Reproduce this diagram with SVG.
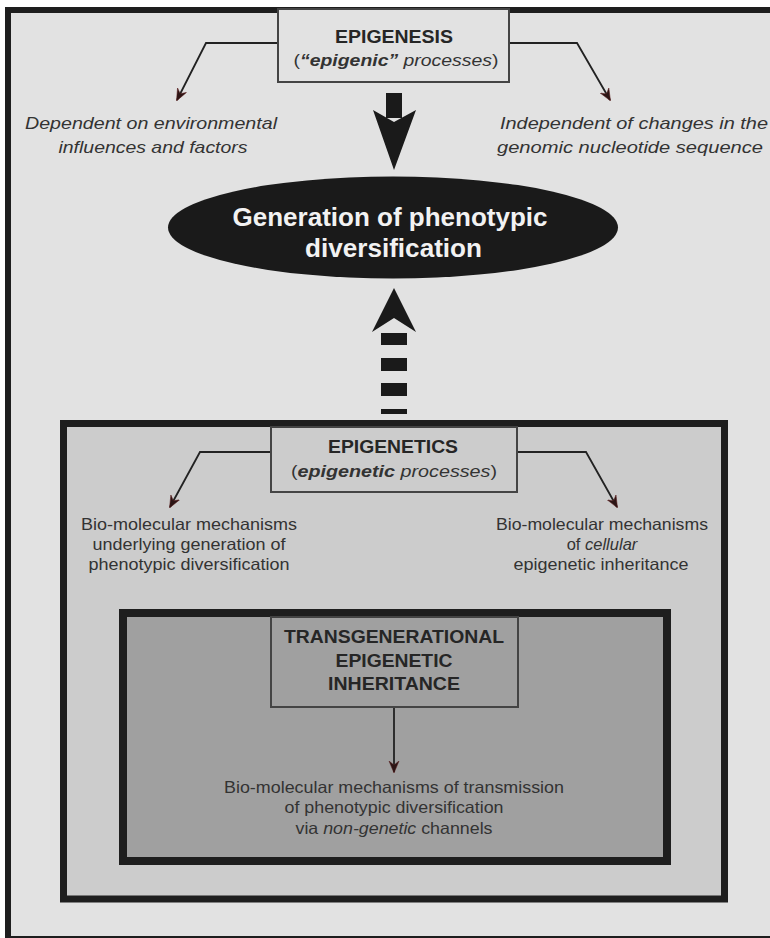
<svg xmlns="http://www.w3.org/2000/svg" width="770" height="938" viewBox="0 0 770 938">
<defs>
<style>
.t{font-family:"Liberation Sans",Arial,sans-serif;fill:#333;}
.title{font-family:"Liberation Sans",Arial,sans-serif;font-weight:bold;fill:#262626;font-size:18px;}
.it{font-style:italic;}
.b{font-weight:bold;}
.conn{fill:none;stroke:#222;stroke-width:1.8;}
.box{stroke:#444;stroke-width:2;}
</style>
<marker id="ah" viewBox="0 0 12 12" refX="11" refY="6" markerWidth="12" markerHeight="12" orient="auto" markerUnits="userSpaceOnUse">
<path d="M0,1 L12,6 L0,11 L4,6 z" fill="#2b1515" stroke="#5a1a1a" stroke-width="0.5"/>
</marker>
</defs>
<rect x="0" y="0" width="770" height="938" fill="#ffffff"/>
<g id="frame">
<rect x="8" y="10" width="800" height="929" fill="#e2e2e2" stroke="#1e1e1e" stroke-width="6"/>
</g>
<g id="epigenetics-area">
<rect x="63.5" y="423.5" width="661" height="475.5" fill="#cccccc" stroke="#1e1e1e" stroke-width="7"/>
</g>
<g id="transgenerational-area">
<rect x="123" y="613" width="544" height="248" fill="#a0a0a0" stroke="#1e1e1e" stroke-width="8"/>
</g>

<g id="connectors">
<path class="conn" d="M278,43 H206 L177,100" marker-end="url(#ah)"/>
<path class="conn" d="M509,43 H577 L610,100" marker-end="url(#ah)"/>
<path class="conn" d="M271,452 H200 L170,507" marker-end="url(#ah)"/>
<path class="conn" d="M517,452 H586 L617,507" marker-end="url(#ah)"/>
<path class="conn" d="M394,707 V772" marker-end="url(#ah)"/>
<g id="big-down-arrow" fill="#1a1a1a">
<rect x="386" y="93" width="16" height="25"/>
<polygon points="373,110 394,122 416,110 394,170"/>
</g>
<g id="dashed-up-arrow" fill="#1a1a1a">
<polygon points="394,288 416,332 394,318 372,332"/>
<rect x="381" y="333" width="26" height="12"/>
<rect x="381" y="358" width="26" height="13"/>
<rect x="381" y="383" width="26" height="13"/>
<rect x="381" y="409" width="26" height="5"/>
</g>
</g>

<g id="epigenesis">
<rect class="box" x="278" y="9" width="231" height="73" fill="#e2e2e2"/>
<text class="title" x="394" y="43" text-anchor="middle" textLength="118" lengthAdjust="spacingAndGlyphs">EPIGENESIS</text>
<text class="t" x="396" y="66" font-size="17" text-anchor="middle" textLength="205" lengthAdjust="spacingAndGlyphs">(<tspan class="b it">“epigenic”</tspan><tspan class="it"> processes</tspan>)</text>
</g>

<g id="dependent">
<text class="t it" x="151" y="129" font-size="17" text-anchor="middle" textLength="252" lengthAdjust="spacingAndGlyphs">Dependent on environmental</text>
<text class="t it" x="153" y="153" font-size="17" text-anchor="middle" textLength="189" lengthAdjust="spacingAndGlyphs">influences and factors</text>
</g>

<g id="independent">
<text class="t it" x="634" y="129" font-size="17" text-anchor="middle" textLength="268" lengthAdjust="spacingAndGlyphs">Independent of changes in the</text>
<text class="t it" x="630" y="153" font-size="17" text-anchor="middle" textLength="266" lengthAdjust="spacingAndGlyphs">genomic nucleotide sequence</text>
</g>

<g id="generation">
<ellipse cx="393" cy="227.5" rx="225" ry="51" fill="#1a1a1a"/>
<text x="390" y="226" font-family="Liberation Sans, Arial, sans-serif" font-weight="bold" font-size="25" fill="#f2f2f2" text-anchor="middle" textLength="315" lengthAdjust="spacingAndGlyphs">Generation of phenotypic</text>
<text x="393.5" y="257" font-family="Liberation Sans, Arial, sans-serif" font-weight="bold" font-size="25" fill="#f2f2f2" text-anchor="middle" textLength="177" lengthAdjust="spacingAndGlyphs">diversification</text>
</g>

<g id="epigenetics">
<rect class="box" x="271" y="427" width="246" height="65" fill="#cccccc"/>
<text class="title" x="393" y="453" text-anchor="middle" textLength="130" lengthAdjust="spacingAndGlyphs">EPIGENETICS</text>
<text class="t" x="394" y="477" font-size="17" text-anchor="middle" textLength="206" lengthAdjust="spacingAndGlyphs">(<tspan class="b it">epigenetic</tspan><tspan class="it"> processes</tspan>)</text>
</g>

<g id="underlying">
<text class="t" x="189" y="530" font-size="16.5" text-anchor="middle" textLength="216" lengthAdjust="spacingAndGlyphs">Bio-molecular mechanisms</text>
<text class="t" x="189" y="550" font-size="16.5" text-anchor="middle" textLength="193" lengthAdjust="spacingAndGlyphs">underlying generation of</text>
<text class="t" x="189" y="570" font-size="16.5" text-anchor="middle" textLength="201" lengthAdjust="spacingAndGlyphs">phenotypic diversification</text>
</g>

<g id="cellular">
<text class="t" x="602" y="530" font-size="16.5" text-anchor="middle" textLength="212" lengthAdjust="spacingAndGlyphs">Bio-molecular mechanisms</text>
<text class="t" x="602" y="550" font-size="16.5" text-anchor="middle">of <tspan class="it">cellular</tspan></text>
<text class="t" x="601" y="570" font-size="16.5" text-anchor="middle" textLength="175" lengthAdjust="spacingAndGlyphs">epigenetic inheritance</text>
</g>

<g id="transgenerational">
<rect class="box" x="271" y="617" width="247" height="90" fill="#a0a0a0"/>
<text class="title" x="394" y="643" text-anchor="middle" textLength="220" lengthAdjust="spacingAndGlyphs">TRANSGENERATIONAL</text>
<text class="title" x="394" y="667" text-anchor="middle" textLength="117" lengthAdjust="spacingAndGlyphs">EPIGENETIC</text>
<text class="title" x="394" y="690" text-anchor="middle" textLength="132" lengthAdjust="spacingAndGlyphs">INHERITANCE</text>
</g>

<g id="transmission">
<text class="t" x="394" y="793" font-size="16.5" text-anchor="middle" textLength="340" lengthAdjust="spacingAndGlyphs">Bio-molecular mechanisms of transmission</text>
<text class="t" x="394" y="813" font-size="16.5" text-anchor="middle" textLength="219" lengthAdjust="spacingAndGlyphs">of phenotypic diversification</text>
<text class="t" x="394" y="834" font-size="16.5" text-anchor="middle" textLength="197" lengthAdjust="spacingAndGlyphs">via <tspan class="it">non-genetic</tspan> channels</text>
</g>
</svg>
